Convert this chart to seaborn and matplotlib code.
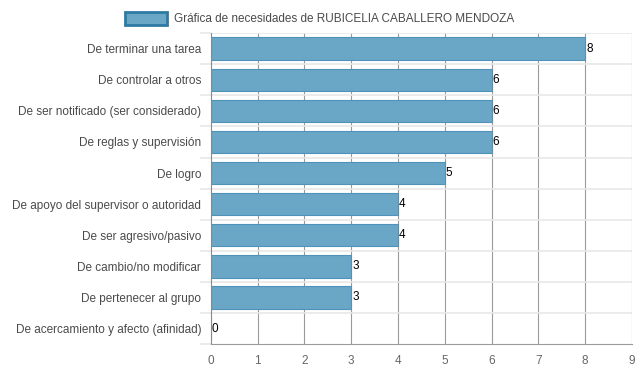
import pandas as pd
import matplotlib.pyplot as plt
import seaborn as sns
from matplotlib.patches import Patch

# datos
categorias = [
    'De terminar una tarea',
    'De controlar a otros',
    'De ser notificado (ser considerado)',
    'De reglas y supervisión',
    'De logro',
    'De apoyo del supervisor o autoridad',
    'De ser agresivo/pasivo',
    'De cambio/no modificar',
    'De pertenecer al grupo',
    'De acercamiento y afecto (afinidad)',
]
valores = [8, 6, 6, 6, 5, 4, 4, 3, 3, 0]
titulo_serie = 'Gráfica de necesidades de RUBICELIA CABALLERO MENDOZA'

df = pd.DataFrame({'Necesidad': categorias, 'Valor': valores})

sns.set_theme(style="white")
plt.rcParams['font.family'] = ['Liberation Sans', 'DejaVu Sans']

fig = plt.figure(figsize=(6.39, 3.72), dpi=100)
ax = fig.add_axes([0.330, 0.075, 0.659, 0.836])

sns.barplot(data=df, y='Necesidad', x='Valor', orient='h', color='#6aa6c6',
            saturation=1, width=0.72, edgecolor='#4f93b9', linewidth=0.8, ax=ax)

ax.set_xlim(0, 9)
ax.set_ylim(len(categorias) - 0.5, -0.5)
ax.set_xticks(range(0, 10))
ax.set_xlabel('')
ax.set_ylabel('')

# rejilla
for x in range(1, 10):
    ax.axvline(x, color='#9a9a9a', linewidth=0.8, zorder=0)
for y in [i + 0.5 for i in range(len(categorias) - 1)] + [-0.5]:
    ax.axhline(y, color='#e8e8e8', linewidth=1.2, zorder=0)
ax.set_axisbelow(True)

# marcas a la izquierda en los limites de cada categoria
ax.set_yticks([i - 0.5 for i in range(len(categorias) + 1)], minor=True)
ax.tick_params(axis='y', which='minor', length=8, width=1.2, color='#e8e8e8', left=True)

for s in ['top', 'right']:
    ax.spines[s].set_visible(False)
ax.spines['left'].set_color('#8a8a8a')
ax.spines['bottom'].set_color('#9a9a9a')
ax.spines['left'].set_linewidth(0.8)
ax.spines['bottom'].set_linewidth(0.8)

ax.tick_params(axis='y', which='major', length=0, pad=7, labelsize=8.5, labelcolor='#4a4a4a')
ax.tick_params(axis='x', length=6, color='#9a9a9a', labelsize=8.5, labelcolor='#666666', pad=2)
ax.tick_params(axis='x', which='major', direction='out')

for i, v in enumerate(valores):
    ax.text(v + 0.02, i, str(v), va='center', ha='left', fontsize=8.5, color='black')

handles = [Patch(facecolor='#6aa6c6', edgecolor='#2f7aa5', linewidth=2, label=titulo_serie)]
fig.legend(handles=handles, loc='upper center', bbox_to_anchor=(0.5, 0.997), frameon=False,
           fontsize=8.5, handlelength=3.6, handleheight=1.3, handletextpad=0.6,
           labelcolor='#4a4a4a')

plt.savefig('out.png', dpi=100)
